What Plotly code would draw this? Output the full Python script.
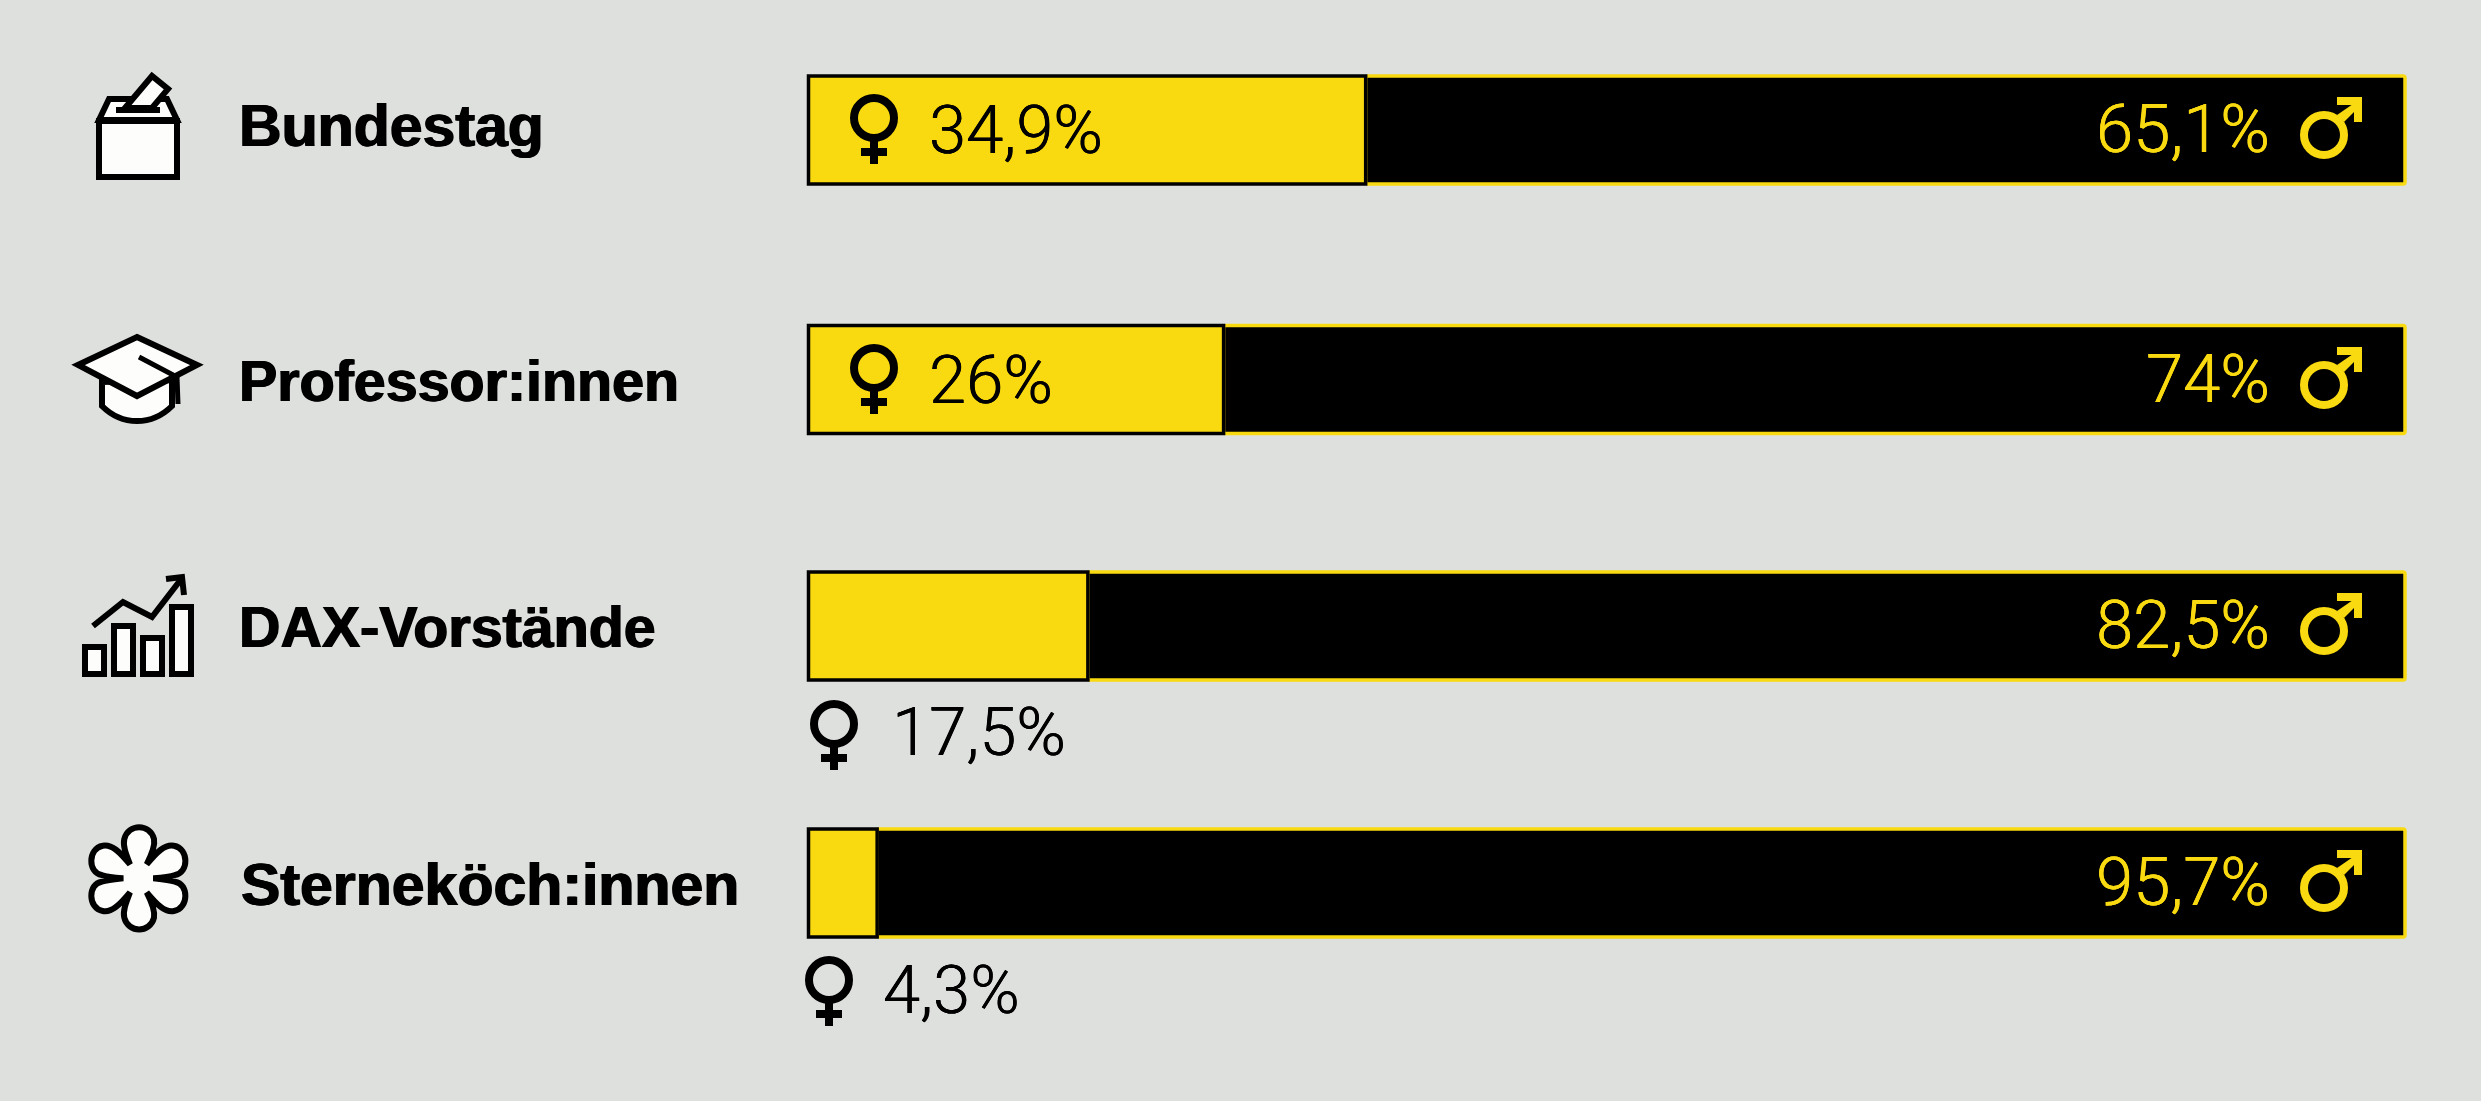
import re
import plotly.graph_objects as go

# ---- data ----
categories = ["Bundestag", "Professor:innen", "DAX-Vorstände", "Sterneköch:innen"]
women = [34.9, 26, 17.5, 4.3]
men = [65.1, 74, 82.5, 95.7]

# ---- layout / style (pixel space of the page) ----
W, H = 2481, 1101
BG, YELLOW, WHITE, BLACK = "#dee0dd", "#f9d90f", "#fdfefc", "#000000"
row_y = [130, 379.5, 626, 883]
BAR_W = 108
X0, X1 = 808.5, 2405
label_x = [239, 239, 239, 241]
label_base = [146, 401, 647, 905]
label_size = [59, 57.4, 57.4, 59]
fem_ring = [(874, 118), (874, 368), (834, 724), (829, 980)]
fem_text = [(929, 153), (929, 403), (892, 755), (883, 1013)]
male_ring = [(2324, 135), (2324, 385), (2324, 631), (2324, 888)]
male_text = [(2270, 152), (2270, 402), (2270, 648), (2270, 905)]
LABEL_FAMILY = "Liberation Sans"
VALUE_SIZE = 67
VALUE_FAMILY = "Roboto"
HEAVY = "0.8px 0 0 #000, -0.8px 0 0 #000"
VALUE_HEAVY_BLACK = "0.3px 0 0 #000, -0.3px 0 0 #000"
VALUE_HEAVY_YELLOW = "0.3px 0 0 #f9d90f, -0.3px 0 0 #f9d90f"

fmt = lambda v: f"{v:g}".replace(".", ",") + "%"

fig = go.Figure()
fig.add_trace(go.Bar(y=row_y, x=men, base=women, orientation="h", width=BAR_W,
                     marker=dict(color=BLACK, line=dict(color=YELLOW, width=3.5), cornerradius=2),
                     hoverinfo="skip", showlegend=False, name="Männer"))
fig.add_trace(go.Bar(y=row_y, x=women, orientation="h", width=BAR_W,
                     marker=dict(color=YELLOW, line=dict(color=BLACK, width=3.5), cornerradius=2),
                     hoverinfo="skip", showlegend=False, name="Frauen"))

shapes, annos = [], []


def path(d, fill=None, line=BLACK, w=6):
    d = re.sub(r"(-?[\d.]+),(-?[\d.]+)", lambda m: f"{float(m[1]) / W:.6f},{m[2]}", d)
    shapes.append(dict(type="path", xref="paper", yref="y", path=d,
                       fillcolor=fill if fill else "rgba(0,0,0,0)",
                       line=dict(color=line, width=w), layer="above"))


def poly(pts, fill=None, line=BLACK, w=6, close=True):
    d = "M" + " L".join(f"{x},{y}" for x, y in pts) + (" Z" if close else "")
    path(d, fill, line, w)


def circle(cx, cy, r, line, w):
    shapes.append(dict(type="circle", xref="paper", yref="y", x0=(cx - r) / W, x1=(cx + r) / W, y0=cy - r, y1=cy + r,
                       line=dict(color=line, width=w), layer="above"))


def text(x, base, s, size, color, family, anchor="left", weight=400, shadow=None):
    asc, desc = (0.905, 0.212) if family.startswith("Liberation") else (0.927, 0.244)
    cy = base - (asc - desc) / 2 * size
    font = dict(family=family, size=size, color=color, weight=weight)
    if shadow:
        font["shadow"] = shadow
    annos.append(dict(xref="paper", yref="y", x=x / W, y=cy, text=s, showarrow=False, xanchor=anchor, yanchor="middle",
                      borderpad=0, borderwidth=0, font=font))


def female(cx, cy):
    circle(cx, cy, 20, BLACK, 8)
    poly([(cx - 4, cy + 22), (cx + 4, cy + 22), (cx + 4, cy + 30), (cx + 13, cy + 30), (cx + 13, cy + 38),
          (cx + 4, cy + 38), (cx + 4, cy + 46), (cx - 4, cy + 46), (cx - 4, cy + 38), (cx - 13, cy + 38),
          (cx - 13, cy + 30), (cx - 4, cy + 30)], fill=BLACK, line=BLACK, w=0)


def male(cx, cy):
    circle(cx, cy, 20, YELLOW, 8)
    poly([(cx + 13, cy - 20), (cx + 20, cy - 13), (cx + 34, cy - 27), (cx + 29, cy - 31)], fill=YELLOW, line=YELLOW, w=0)
    poly([(cx + 13, cy - 38), (cx + 38, cy - 38), (cx + 38, cy - 13), (cx + 30, cy - 13), (cx + 30, cy - 30),
          (cx + 13, cy - 30)], fill=YELLOW, line=YELLOW, w=0)


# icon: ballot box
poly([(99, 120), (109, 99), (167, 99), (177, 120)], fill=WHITE)
poly([(125, 108), (152, 76), (168, 89), (152, 108)], fill=WHITE)
poly([(116, 110), (160, 110)], close=False)
poly([(99, 121), (177, 121), (177, 177), (99, 177)], fill=WHITE)

# icon: graduation cap
path("M102,382 L102,406 C112,416 124,421 137,421 C150,421 162,416 172,406 L172,380 Z", fill=WHITE)
poly([(137, 337), (197, 365), (137, 396), (78, 365)], fill=WHITE)
poly([(139, 357), (177, 377), (178, 404)], close=False, w=5)

# icon: bar chart
for xa, xb, yt in [(85, 104, 647), (114, 133, 626), (143, 162, 638), (172, 191, 607)]:
    poly([(xa, yt), (xb, yt), (xb, 674), (xa, 674)], fill=WHITE)
poly([(93, 626), (123, 602), (152, 617), (182, 578)], close=False)
poly([(166, 579), (182, 577), (184, 595)], close=False)


# icon: star flower, drawn from the outline in crop coordinates
def zx(v):
    return round(75 + v / 3, 1)


def zy(v):
    return round(815 + v / 3, 1)


segs = [[(152, 115), (143, 92), (148, 72)], [(160, 25), (225, 25), (237, 72)],
        [(241, 92), (232, 115), (215, 148)],
        [(245, 112), (270, 86), (297, 92)], [(342, 100), (342, 174), (300, 180)],
        [(280, 186), (255, 188), (235, 190)],
        [(255, 192), (280, 194), (300, 200)], [(342, 206), (342, 280), (297, 288)],
        [(270, 294), (245, 268), (215, 232)],
        [(232, 265), (241, 288), (237, 308)], [(225, 355), (160, 355), (148, 308)],
        [(143, 288), (152, 265), (165, 232)],
        [(135, 268), (110, 294), (83, 288)], [(38, 280), (38, 206), (80, 200)],
        [(100, 194), (125, 192), (145, 190)],
        [(125, 188), (100, 186), (80, 180)], [(38, 174), (38, 100), (83, 92)],
        [(110, 86), (135, 112), (165, 148)]]
d = f"M{zx(165)},{zy(148)}"
for pts in segs:
    d += " C" + " ".join(f"{zx(x)},{zy(y)}" for x, y in pts)
path(d + " Z", fill=WHITE)

# labels and symbols
for i, name in enumerate(categories):
    text(label_x[i], label_base[i], name, label_size[i], BLACK, LABEL_FAMILY, weight=700, shadow=HEAVY)
    female(*fem_ring[i])
    male(*male_ring[i])
    text(fem_text[i][0], fem_text[i][1], fmt(women[i]), VALUE_SIZE, BLACK, VALUE_FAMILY, weight=300,
         shadow=VALUE_HEAVY_BLACK)
    text(male_text[i][0], male_text[i][1], fmt(men[i]), VALUE_SIZE, YELLOW, VALUE_FAMILY, anchor="right", weight=300,
         shadow=VALUE_HEAVY_YELLOW)

k = (X1 - X0) / 100
fig.update_layout(
    width=W, height=H, margin=dict(l=0, r=0, t=0, b=0, pad=0, autoexpand=False),
    paper_bgcolor=BG, plot_bgcolor=BG, barmode="overlay", showlegend=False,
    xaxis=dict(domain=[0, 1], range=[-X0 / k, (W - X0) / k], visible=False, fixedrange=True),
    yaxis=dict(domain=[0, 1], range=[H, 0], visible=False, fixedrange=True),
    shapes=shapes, annotations=annos,
)
fig.write_html("out.html", config=dict(displayModeBar=False),
               post_script="document.body.style.margin='0';document.body.style.background='" + BG + "';")
